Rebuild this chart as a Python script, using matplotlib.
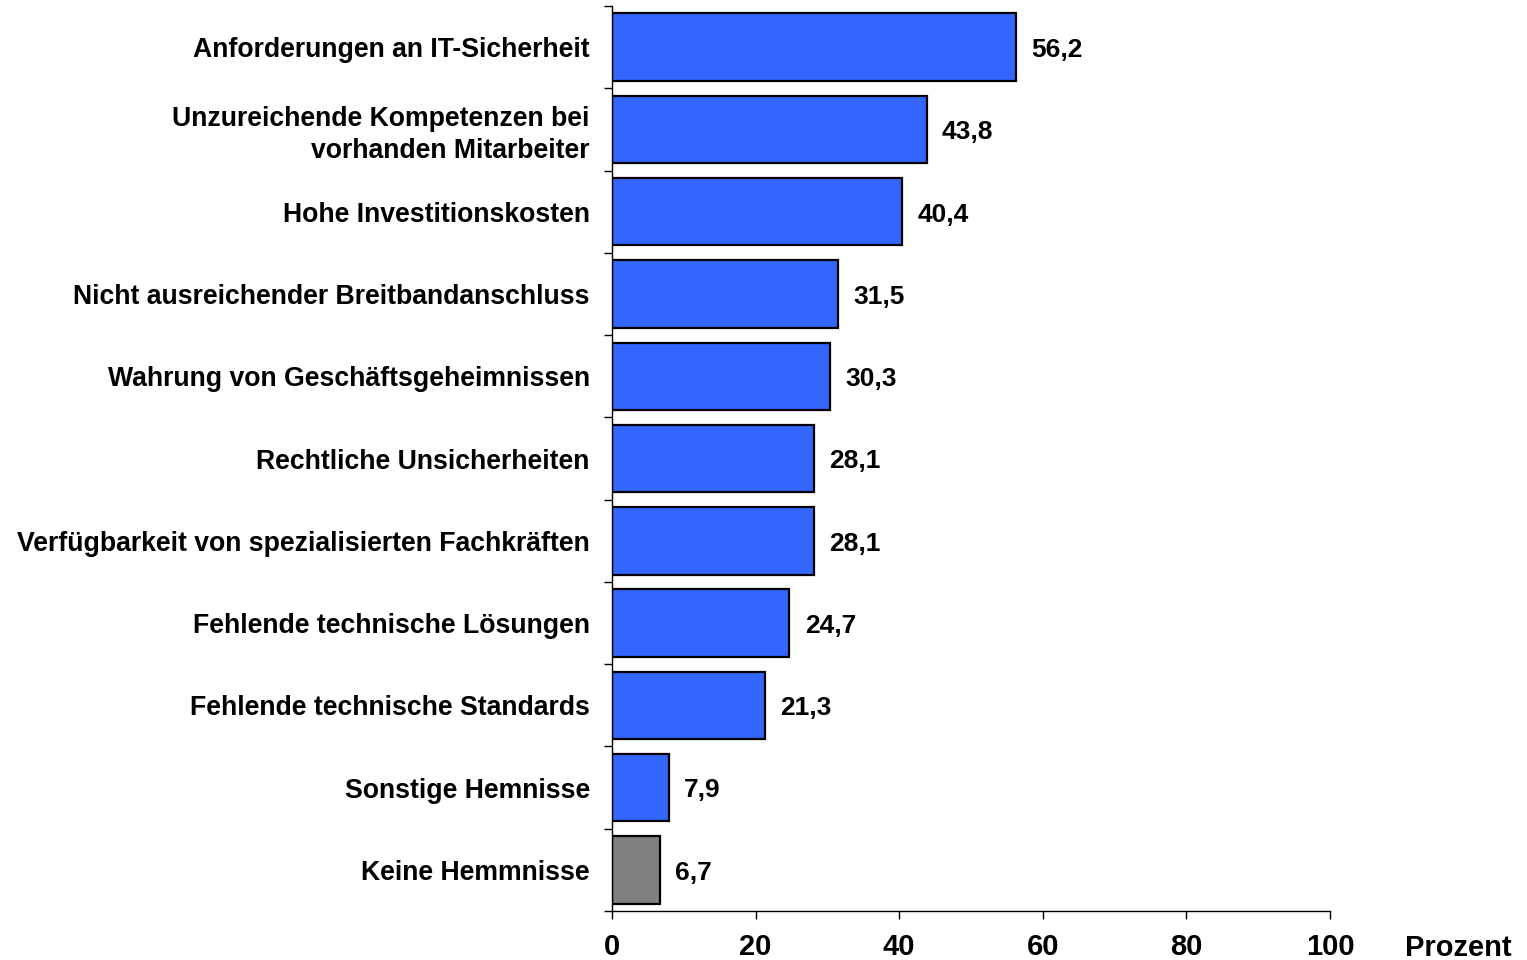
import matplotlib.pyplot as plt

plt.rcParams['font.family'] = ['Liberation Sans', 'DejaVu Sans']
plt.rcParams['font.weight'] = 'bold'

# Data
labels = ["Anforderungen an IT-Sicherheit",
          "Unzureichende Kompetenzen bei\nvorhanden Mitarbeiter",
          "Hohe Investitionskosten",
          "Nicht ausreichender Breitbandanschluss",
          "Wahrung von Geschäftsgeheimnissen",
          "Rechtliche Unsicherheiten",
          "Verfügbarkeit von spezialisierten Fachkräften",
          "Fehlende technische Lösungen",
          "Fehlende technische Standards",
          "Sonstige Hemnisse",
          "Keine Hemmnisse"]
values = [56.2, 43.8, 40.4, 31.5, 30.3, 28.1, 28.1, 24.7, 21.3, 7.9, 6.7]
colors = ['#3366FF'] * 10 + ['#808080']
xticks = [0, 20, 40, 60, 80, 100]

# Figure
fig = plt.figure(figsize=(15.27, 9.6), dpi=100)
ax = fig.add_axes([0.4008, 0.051, 0.4702, 0.9427])

n = len(values)
ypos = list(range(n))
bars = ax.barh(ypos, values, height=0.82, color=colors, edgecolor='black', linewidth=1.6)
ax.set_ylim(n - 0.5, -0.5)
ax.set_xlim(0, 100)

# Value labels
for y, v in zip(ypos, values):
    ax.annotate(f"{v:.1f}".replace('.', ','), (v, y), xytext=(11, -2),
                textcoords='offset points', ha='left', va='center',
                fontsize=19, fontweight='bold')

# Y axis: category labels, ticks at boundaries
ax.set_yticks(ypos)
ax.set_yticklabels(labels, fontsize=19.2, fontweight='bold', ha='right',
                   linespacing=1.3)
ax.tick_params(axis='y', which='major', length=0, pad=16)
ax.set_yticks([i - 0.5 for i in range(n + 1)], minor=True)
ax.tick_params(axis='y', which='minor', length=6, width=1, direction='out')

# X axis
ax.set_xticks(xticks)
ax.set_xticklabels([str(t) for t in xticks], fontsize=21, fontweight='bold')
ax.tick_params(axis='x', length=6, width=1, direction='out', pad=10)

ax.spines['right'].set_visible(False)
ax.spines['top'].set_visible(False)
for s in ['left', 'bottom']:
    ax.spines[s].set_linewidth(1)

ax.text(1.178, -0.025, "Prozent", transform=ax.transAxes, fontsize=21,
        fontweight='bold', ha='center', va='top')

fig.savefig('out.png', dpi=100)
